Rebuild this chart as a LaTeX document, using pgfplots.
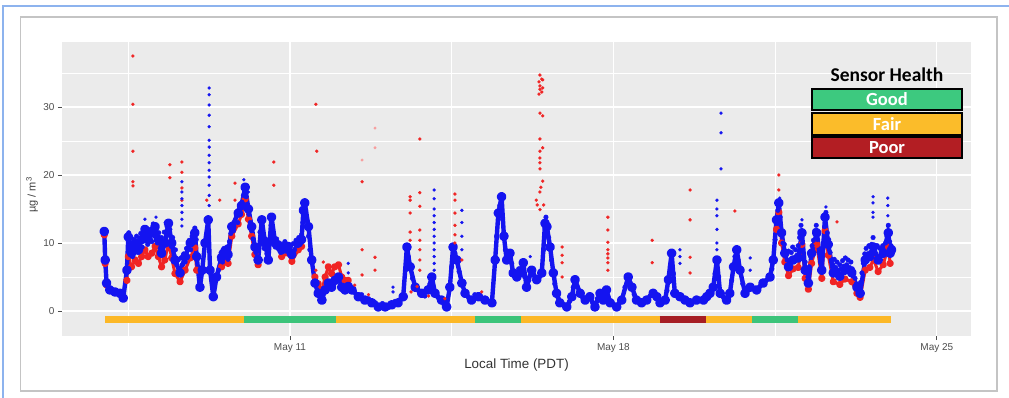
\documentclass[border=0pt]{standalone}
\usepackage{pgfplots}
\pgfplotsset{compat=1.18}
\usepackage{fontspec}
\setmainfont{Liberation Sans}
\newfontfamily\calibri{Carlito}
\definecolor{panelbg}{HTML}{EBEBEB}
\definecolor{tickgray}{HTML}{4D4D4D}
\definecolor{fairc}{HTML}{FCB827}
\definecolor{goodc}{HTML}{3CC47A}
\definecolor{poorc}{HTML}{A61E24}
\definecolor{legfair}{HTML}{FBBC2A}
\definecolor{leggood}{HTML}{3DC97F}
\definecolor{legpoor}{HTML}{B31E23}
\definecolor{framblue}{HTML}{8DB3EE}
\definecolor{framgray}{HTML}{C4C4C4}
\definecolor{pblue}{HTML}{1414F0}
\definecolor{pred}{HTML}{F02424}
\begin{document}
\begin{tikzpicture}[x=1pt,y=1pt]
\useasboundingbox (0,0) rectangle (1009,397);
\fill[white] (0,0) rectangle (1009,397);
\draw[framblue, line width=2pt] (3,-5) -- (3,391) -- (1015,391);
\draw[framgray, line width=1.5pt, fill=white] (20.5,6) rectangle (997,380);
\begin{axis}[at={(62pt,61pt)}, anchor=south west, scale only axis,
  width=909pt, height=294pt,
  xmin=6.065, xmax=25.74, ymin=-3.68, ymax=39.56,
  axis background/.style={fill=panelbg},
  axis line style={draw=none},
  grid=both,
  major grid style={white, line width=1.3pt},
  minor grid style={white, line width=0.6pt},
  xtick={11,18,25}, xticklabels={May 11, May 18, May 25},
  minor xtick={7.5,14.5,21.5},
  ytick={0,10,20,30}, minor ytick={5,15,25,35},
  xtick pos=bottom, ytick pos=left,
  tick align=outside, major tick length=4pt, minor tick length=0pt,
  tick style={tickgray, line width=0.8pt},
  ticklabel style={font=\fontsize{10}{12}\selectfont, text=tickgray},
  /pgf/number format/assume math mode=true,
  xlabel={Local Time (PDT)},
  xlabel style={at={(axis description cs:0.5,-0.099)}, anchor=center, font=\fontsize{13.4}{15}\selectfont, text=black!80},
  ylabel={µg / m\textsuperscript{3}},
  ylabel style={at={(axis description cs:-0.033,0.48)}, anchor=center, font=\fontsize{11}{13}\selectfont, text=black!75},
  line join=round,
  redtrace/.style={pred, line width=3pt, mark=*, mark size=2.1pt, mark options={draw=none, fill=pred}},
  bluedots/.style={pblue, only marks, mark=*, mark size=2.3pt, mark options={draw=none, fill=pblue}},
  reddots/.style={pred, only marks, mark=*, mark size=1.5pt, mark options={draw=none, fill=pred}}]
% sensor health bar
\addplot[fairc, line width=7pt] coordinates {(7,-1.3) (10,-1.3)};
\addplot[goodc, line width=7pt] coordinates {(10,-1.3) (12,-1.3)};
\addplot[fairc, line width=7pt] coordinates {(12,-1.3) (15,-1.3)};
\addplot[goodc, line width=7pt] coordinates {(15,-1.3) (16,-1.3)};
\addplot[fairc, line width=7pt] coordinates {(16,-1.3) (19,-1.3)};
\addplot[poorc, line width=7pt] coordinates {(19,-1.3) (20,-1.3)};
\addplot[fairc, line width=7pt] coordinates {(20,-1.3) (21,-1.3)};
\addplot[goodc, line width=7pt] coordinates {(21,-1.3) (22,-1.3)};
\addplot[fairc, line width=7pt] coordinates {(22,-1.3) (24,-1.3)};
% red sensor trace (visible segments)
\addplot[redtrace] coordinates {(6.98,11.2) (7.00,7.0) (7.03,3.8)};
\addplot[redtrace] coordinates {(7.47,4.5) (7.50,8.0) (7.57,6.5) (7.65,7.5) (7.72,7.0) (7.79,8.0) (7.86,9.0) (7.93,8.0) (8.01,8.5) (8.08,9.5) (8.15,8.0) (8.22,6.5) (8.29,7.5) (8.37,10.0) (8.44,7.8) (8.51,5.5) (8.62,4.3) (8.73,6.0) (8.84,7.8) (8.94,9.3) (8.98,6.0)};
\addplot[redtrace] coordinates {(9.52,6.5) (9.59,7.2) (9.66,7.0) (9.74,11.0) (9.88,12.8) (9.95,14.2) (10.03,16.5) (10.10,13.5) (10.17,11.0) (10.24,8.3) (10.31,6.8)};
\addplot[redtrace] coordinates {(10.82,8.0) (10.96,8.5) (11.04,7.3) (11.18,9.0) (11.25,9.5)};
\addplot[redtrace] coordinates {(11.54,5.0) (11.61,4.0) (11.69,3.0) (11.76,5.0) (11.83,6.5) (11.90,5.5) (11.97,6.5) (12.05,6.8) (12.12,5.0) (12.19,4.5) (12.26,4.5)};
\addplot[redtrace] coordinates {(21.53,12.0) (21.58,14.5) (21.64,10.0) (21.71,7.2) (21.79,5.2) (21.89,6.2) (22.00,6.4) (22.08,9.8) (22.15,4.8) (22.22,3.2) (22.29,7.0) (22.40,9.8) (22.51,4.8) (22.58,11.8) (22.65,8.2) (22.76,4.3) (22.90,3.9) (23.01,4.7) (23.16,4.3) (23.27,2.6) (23.34,2.0) (23.45,6.0) (23.55,6.4) (23.63,7.6) (23.73,5.8) (23.84,6.8) (23.95,9.5) (23.99,7.0)};
% blue sensor trace
\addplot[pblue, line width=4.4pt, mark=*, mark size=2.6pt, mark options={draw=none, fill=pblue}] coordinates {(6.98,11.7) (7.00,7.5) (7.03,4.1) (7.10,3.1) (7.21,2.8) (7.32,2.6) (7.39,1.9) (7.47,6.0) (7.50,10.9) (7.57,8.5) (7.65,10.0) (7.72,9.0) (7.79,10.5) (7.86,12.0) (7.93,10.5) (8.01,11.5) (8.08,12.4) (8.15,10.5) (8.22,8.5) (8.29,10.0) (8.37,12.9) (8.44,10.0) (8.51,7.5) (8.62,5.6) (8.73,8.0) (8.84,10.0) (8.94,11.5) (8.98,8.0) (9.05,3.5) (9.10,6.0) (9.16,10.0) (9.23,13.4) (9.27,6.0) (9.34,2.1) (9.41,5.0) (9.52,7.9) (9.59,8.8) (9.66,8.3) (9.74,12.4) (9.88,14.4) (9.95,15.5) (10.03,18.2) (10.10,15.0) (10.17,12.4) (10.24,9.4) (10.31,7.5) (10.39,13.4) (10.46,10.0) (10.53,7.5) (10.60,13.8) (10.68,10.0) (10.82,9.0) (10.96,9.5) (11.04,8.3) (11.18,10.0) (11.25,10.5) (11.29,14.8) (11.32,15.9) (11.40,12.4) (11.47,7.5) (11.54,4.1) (11.61,2.6) (11.69,1.6) (11.76,3.1) (11.83,4.1) (11.90,3.5) (11.97,4.5) (12.05,5.0) (12.12,3.5) (12.19,3.1) (12.26,3.6) (12.34,3.1) (12.48,2.1) (12.62,1.6) (12.77,1.2) (12.91,0.6) (13.06,0.6) (13.20,0.9) (13.34,1.2) (13.45,2.1) (13.53,9.4) (13.60,6.5) (13.71,3.5) (13.85,2.6) (13.99,3.1) (14.07,5.0) (14.14,2.6) (14.28,1.6) (14.39,0.6) (14.46,3.5) (14.53,9.4) (14.61,7.5) (14.72,4.1) (14.79,2.6) (14.93,1.6) (15.08,2.1) (15.22,1.6) (15.37,1.2) (15.44,7.5) (15.51,14.4) (15.58,16.8) (15.63,11.0) (15.69,7.5) (15.76,8.5) (15.83,5.6) (15.91,5.0) (15.98,5.6) (16.05,7.1) (16.12,3.5) (16.23,6.0) (16.34,4.6) (16.45,5.6) (16.52,12.9) (16.56,12.4) (16.63,9.4) (16.70,5.6) (16.77,2.6) (16.84,1.2) (16.99,0.6) (17.10,2.1) (17.17,4.6) (17.28,2.6) (17.39,1.6) (17.49,2.1) (17.60,0.6) (17.71,2.6) (17.78,1.6) (17.85,3.1) (17.93,1.2) (18.07,0.6) (18.18,1.6) (18.32,5.0) (18.40,3.5) (18.50,1.6) (18.61,1.2) (18.72,1.6) (18.86,2.6) (18.94,2.1) (19.01,1.2) (19.12,1.6) (19.19,4.6) (19.26,8.5) (19.33,2.6) (19.44,2.1) (19.55,1.6) (19.66,1.2) (19.80,1.6) (19.95,1.6) (20.02,2.1) (20.09,2.6) (20.16,3.5) (20.24,7.5) (20.31,2.6) (20.45,1.6) (20.52,2.6) (20.60,6.5) (20.67,9.0) (20.74,6.0) (20.85,2.6) (20.96,3.5) (21.10,3.1) (21.24,4.1) (21.39,5.0) (21.46,7.5) (21.53,13.4) (21.58,15.9) (21.64,11.5) (21.71,8.5) (21.79,6.5) (21.89,7.5) (22.00,7.8) (22.08,11.5) (22.15,6.0) (22.22,4.1) (22.29,8.5) (22.40,11.5) (22.51,6.0) (22.58,13.8) (22.65,9.8) (22.76,5.6) (22.90,5.1) (23.01,6.0) (23.16,5.6) (23.27,3.5) (23.34,2.6) (23.45,7.5) (23.55,8.0) (23.63,9.4) (23.73,7.5) (23.84,8.5) (23.95,11.5) (23.99,8.5) (24.02,9.0)};
% blue spread of the dense readings
\addplot[bluedots] coordinates {(7.51,11.5) (7.54,9.0) (7.56,10.8) (7.59,8.0) (7.62,10.5) (7.65,9.2) (7.68,11.0) (7.71,8.6) (7.74,10.2) (7.77,11.4) (7.80,9.4) (7.83,12.2) (7.86,10.6) (7.89,11.8) (7.92,9.8) (7.95,11.2) (7.98,12.0) (8.01,10.2) (8.04,12.8) (8.07,11.0) (8.10,12.2) (8.13,10.0) (8.16,11.5) (8.19,9.2) (8.22,10.8) (8.25,8.8) (8.28,11.6) (8.31,10.0) (8.34,12.4) (8.37,11.2) (8.40,12.0) (8.43,9.5) (8.46,10.8) (8.49,8.2) (8.52,9.0) (8.55,6.8) (8.58,7.5) (8.61,6.2) (8.64,7.8) (8.67,6.8) (8.70,8.4) (8.73,7.2) (8.76,9.2) (8.79,8.0) (8.82,10.4) (8.85,9.0) (8.88,11.0) (8.91,10.0) (8.94,12.2) (8.97,10.5)};
\addplot[bluedots] coordinates {(9.45,6.0) (9.48,7.5) (9.51,8.6) (9.54,7.2) (9.57,9.2) (9.60,8.0) (9.63,9.4) (9.66,7.6) (9.69,10.2) (9.72,11.4) (9.75,12.8) (9.78,11.8) (9.81,13.2) (9.84,14.0) (9.87,13.0) (9.90,15.0) (9.93,14.2) (9.96,16.0) (9.99,17.0) (10.02,17.6) (10.05,16.8) (10.08,15.6) (10.11,14.2) (10.14,13.0) (10.17,11.8) (10.20,10.6) (10.23,9.8) (10.26,8.6) (10.29,8.0) (10.32,9.5) (10.35,11.6) (10.38,12.2) (10.41,11.0) (10.44,9.2) (10.47,10.6) (10.50,8.4) (10.53,9.0) (10.56,10.5) (10.59,12.6) (10.62,11.2) (10.65,10.2) (10.68,9.4) (10.71,10.6) (10.74,9.2) (10.77,10.0) (10.80,8.6) (10.83,9.8) (10.86,9.0) (10.89,10.2) (10.92,8.8) (10.95,9.6) (10.98,8.4) (11.01,9.6) (11.04,8.8) (11.07,9.9) (11.10,9.0) (11.13,10.4) (11.16,9.6) (11.19,10.8) (11.22,10.0) (11.25,11.2) (11.28,13.0) (11.31,14.8) (11.34,14.0) (11.37,13.2) (11.40,11.0) (11.43,9.0)};
\addplot[bluedots] coordinates {(12.40,2.8) (12.55,2.4) (12.70,1.8) (12.85,1.2) (13.00,1.1) (13.13,0.5) (13.27,1.4) (13.40,1.8) (13.50,6.0) (13.56,8.0) (13.65,4.8) (13.78,3.0) (13.92,2.2) (14.03,4.0) (14.20,2.0) (14.33,1.0) (14.50,6.5) (14.57,8.5) (14.66,5.8) (14.86,2.0) (15.00,2.4) (15.15,1.8) (15.30,1.4) (15.47,11.0) (15.54,15.5) (15.60,13.5) (15.66,9.0) (15.73,7.8) (15.80,7.0) (15.87,5.0) (15.95,6.2) (16.02,6.5) (16.08,5.0) (16.17,4.5) (16.28,5.2) (16.40,5.0) (16.49,9.0) (16.54,13.8) (16.60,10.8) (16.66,7.5) (16.73,4.0) (16.80,2.0) (16.92,1.0) (17.05,1.4) (17.13,3.5) (17.22,3.5) (17.33,2.0) (17.44,1.8) (17.55,1.2) (17.65,1.8) (17.75,2.0) (17.82,2.4) (17.89,2.0) (18.00,0.9) (18.12,1.1) (18.25,3.5) (18.36,4.2) (18.45,2.4) (18.56,1.4) (18.66,1.4) (18.79,2.2) (18.90,2.4) (18.98,1.6) (19.06,1.4) (19.16,3.0) (19.23,6.5) (19.30,5.5) (19.38,2.3) (19.50,1.8) (19.60,1.4) (19.73,1.4) (19.88,1.6) (20.05,2.4) (20.13,3.0) (20.20,5.5) (20.28,5.0) (20.38,2.0) (20.49,2.0) (20.56,4.5) (20.63,8.0) (20.70,7.5) (20.80,4.0) (20.90,3.0) (21.03,3.3) (21.17,3.6) (21.31,4.5) (21.43,6.2) (21.50,10.5) (21.56,14.8) (21.61,13.8) (21.67,10.0)};
\addplot[bluedots] coordinates {(21.70,9.8) (21.73,8.2) (21.76,7.5) (21.79,8.8) (21.82,7.0) (21.85,8.6) (21.88,9.4) (21.91,7.8) (21.94,9.0) (21.97,8.2) (22.00,9.6) (22.03,10.8) (22.06,12.6) (22.09,10.0) (22.12,8.0) (22.15,7.2) (22.18,5.8) (22.21,5.0) (22.24,6.5) (22.27,8.0) (22.30,9.6) (22.33,10.4) (22.36,11.8) (22.39,12.6) (22.42,10.5) (22.45,8.6) (22.48,7.2) (22.51,8.0) (22.54,10.0) (22.57,12.4) (22.60,14.5) (22.63,11.5) (22.66,10.5) (22.69,8.6) (22.72,7.4) (22.75,6.8) (22.78,7.6) (22.81,6.4) (22.84,7.2) (22.87,6.0) (22.90,6.8) (22.93,6.2) (22.96,7.4) (22.99,6.6) (23.02,7.8) (23.05,6.8) (23.08,7.5) (23.11,6.4) (23.14,7.2) (23.17,6.2) (23.20,5.8) (23.23,4.8) (23.26,4.0) (23.29,3.6) (23.32,3.2) (23.35,4.2) (23.38,5.6) (23.41,7.0) (23.44,8.4) (23.47,9.2) (23.50,8.4) (23.53,9.6) (23.56,8.6) (23.59,9.8) (23.62,10.8) (23.65,9.0) (23.68,8.4) (23.71,9.6) (23.74,8.0) (23.77,9.2) (23.80,8.2) (23.83,9.6) (23.86,8.6) (23.89,10.0) (23.92,11.0) (23.95,12.6) (23.98,10.2) (24.01,9.6)};
% red outliers
\addplot[reddots] coordinates {(7.60,37.5) (7.60,30.4) (7.60,23.5) (7.60,19.0) (7.60,18.4) (8.40,21.5) (8.40,19.6) (8.66,21.9) (8.66,20.4) (8.66,18.1) (8.66,16.3) (9.20,16.3) (9.48,16.3) (9.81,18.8) (9.81,16.3) (10.65,18.5) (10.65,21.9) (11.56,30.4) (11.58,23.5) (11.56,6.0) (11.72,7.2) (12.56,19.0) (12.56,9.0) (12.56,5.3) (12.84,7.9) (12.84,6.0) (13.60,16.8) (13.60,16.3) (13.60,14.4) (13.60,11.6) (13.60,10.4) (13.81,25.3) (13.81,17.4) (13.81,15.4) (13.81,11.9) (13.81,10.4) (13.81,9.0) (13.81,7.5) (13.81,6.0) (14.57,17.2) (14.57,16.3) (14.57,14.4) (14.57,12.6) (14.57,11.2) (14.57,10.0) (14.72,7.5) (16.41,34.7) (16.45,34.1) (16.39,33.7) (16.41,33.1) (16.41,32.6) (16.45,32.2) (16.39,31.9) (16.47,34.0) (16.47,32.8) (16.41,29.1) (16.47,28.7) (16.41,25.3) (16.47,24.0) (16.41,23.5) (16.41,22.5) (16.41,21.8) (16.41,20.9) (16.47,19.1) (16.43,18.2) (16.41,17.5) (16.33,16.3) (16.35,15.6) (16.49,15.6) (16.41,14.9) (16.89,9.4) (16.89,8.2) (16.89,7.1) (16.89,5.0) (17.88,13.8) (17.88,11.9) (17.88,10.1) (17.88,9.0) (17.88,8.4) (17.88,7.8) (17.88,7.1) (17.88,6.0) (18.84,10.4) (18.84,7.1) (19.66,17.8) (19.66,13.4) (19.66,7.9) (19.66,5.6) (20.63,14.7) (21.58,20.0) (21.58,17.8) (22.84,13.1) (13.62,2.8) (13.75,3.6) (14.00,2.2) (14.35,1.8) (15.15,2.8) (12.40,3.8) (12.70,2.4)};
\addplot[pred!45, only marks, mark=*, mark size=1.3pt, mark options={draw=none, fill=pred!45}] coordinates {(12.84,26.9) (12.84,24.0) (12.56,22.2)};
% blue spikes
\addplot[pblue, only marks, mark=*, mark size=1.5pt, mark options={draw=none, fill=pblue}] coordinates {(9.25,32.8) (9.25,31.8) (9.25,30.3) (9.25,28.8) (9.25,27.1) (9.25,25.1) (9.25,24.1) (9.25,22.9) (9.25,21.8) (9.25,20.7) (9.25,19.7) (9.25,18.5) (9.25,17.0) (9.25,15.5) (8.66,19.0) (8.66,17.5) (8.66,16.5) (8.66,15.5) (8.66,14.5) (8.66,13.5) (8.66,12.5) (10.0,19.3) (14.12,17.8) (14.12,16.5) (14.12,15.0) (14.12,14.0) (14.12,13.0) (14.12,12.0) (14.12,11.0) (14.12,10.0) (14.12,9.0) (14.12,8.0) (14.12,7.0) (14.12,6.0) (14.72,14.8) (14.72,13.0) (14.72,11.0) (14.72,9.0) (12.26,7.0) (12.26,5.6) (13.23,3.5) (13.23,2.8) (19.27,8.5) (19.27,7.5) (19.27,6.5) (19.27,5.5) (19.27,4.5) (19.44,9.0) (19.44,8.0) (19.44,7.0) (20.33,29.1) (20.33,26.2) (20.33,20.9) (20.24,16.3) (20.24,15.0) (20.24,14.0) (20.24,12.0) (20.24,10.0) (20.24,9.0) (20.96,7.8) (20.96,6.0) (21.6,16.6) (21.6,13.4) (22.08,13.4) (22.6,15.3) (22.6,13.8) (23.62,16.8) (23.62,15.9) (23.62,14.5) (23.62,13.8) (23.94,16.6) (23.94,15.5) (23.94,14.0) (23.94,12.4) (15.55,15.5) (16.2,8.0) (7.86,13.5) (8.10,13.8) (8.3,13.0) (10.1,17.5)};
\end{axis}
% legend
\node[font=\calibri\bfseries\fontsize{19.5}{21}\selectfont, anchor=base] at (887,315) {Sensor Health};
\draw[black, line width=1.5pt, fill=leggood] (812,287) rectangle (962,308);
\node[white, font=\calibri\bfseries\fontsize{18.5}{20}\selectfont] at (887,297.5) {Good};
\draw[black, line width=1.5pt, fill=legfair] (812,262) rectangle (962,284);
\node[white, font=\calibri\bfseries\fontsize{18.5}{20}\selectfont] at (887,273) {Fair};
\draw[black, line width=1.5pt, fill=legpoor] (812,239) rectangle (962,260);
\node[white, font=\calibri\bfseries\fontsize{18.5}{20}\selectfont] at (887,249.5) {Poor};
\end{tikzpicture}
\end{document}
